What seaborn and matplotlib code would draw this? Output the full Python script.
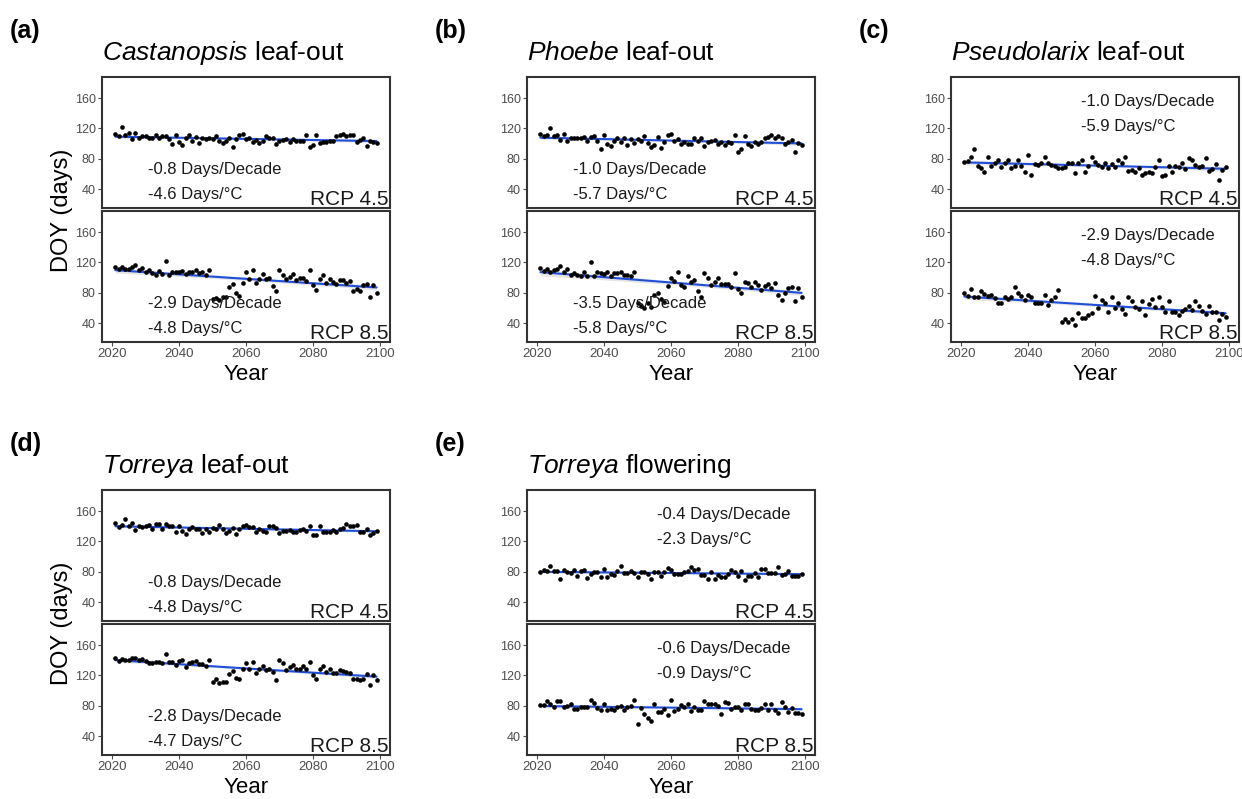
import numpy as np
import pandas as pd
import matplotlib
matplotlib.use("Agg")
import matplotlib.pyplot as plt
import seaborn as sns

sns.set_style("white")
plt.rcParams['font.family'] = ['Liberation Sans', 'DejaVu Sans']
plt.rcParams['text.color'] = 'black'
plt.rcParams['mathtext.fontset'] = 'custom'
plt.rcParams['mathtext.rm'] = 'Liberation Sans'
plt.rcParams['mathtext.it'] = 'Liberation Sans:italic'

years = list(range(2021, 2100))

# day-of-year values, one row per decade
castanopsis_45 = [113, 110, 122, 111, 114, 106, 114, 107, 110,
                  110, 108, 108, 111, 107, 110, 110, 106, 100, 112,
                  102, 98, 107, 111, 104, 109, 101, 108, 106, 107,
                  106, 110, 104, 101, 103, 108, 95, 106, 111, 113,
                  106, 107, 102, 105, 101, 103, 110, 108, 108, 100,
                  104, 105, 106, 102, 106, 104, 104, 103, 112, 96,
                  98, 112, 101, 102, 102, 103, 103, 110, 111, 113,
                  110, 112, 112, 102, 105, 107, 97, 103, 102, 101]
castanopsis_85 = [114, 111, 114, 111, 112, 114, 117, 110, 113,
                  108, 110, 106, 104, 109, 105, 122, 103, 107, 107,
                  108, 109, 105, 108, 108, 110, 106, 107, 104, 110,
                  72, 73, 70, 74, 75, 88, 92, 80, 76, 93,
                  107, 98, 110, 93, 98, 105, 98, 100, 89, 82,
                  110, 104, 98, 101, 105, 97, 99, 100, 95, 110,
                  90, 84, 98, 103, 93, 98, 94, 92, 97, 97,
                  93, 95, 83, 85, 83, 90, 91, 74, 90, 80]
phoebe_45 = [113, 110, 111, 121, 110, 111, 105, 113, 103,
             107, 108, 107, 108, 109, 104, 109, 110, 104, 93,
             112, 99, 97, 104, 108, 102, 107, 98, 106, 101,
             106, 104, 110, 101, 96, 98, 109, 94, 102, 111,
             113, 103, 106, 100, 102, 100, 99, 107, 103, 107,
             97, 102, 103, 105, 100, 102, 98, 102, 101, 111,
             89, 93, 110, 100, 97, 102, 100, 102, 108, 109,
             111, 107, 110, 107, 99, 102, 105, 89, 101, 98]
phoebe_85 = [113, 109, 112, 108, 110, 112, 115, 107, 111,
             104, 106, 103, 102, 107, 102, 121, 102, 107, 106,
             105, 107, 102, 106, 106, 108, 104, 104, 102, 107,
             67, 62, 60, 67, 61, 77, 80, 72, 68, 89,
             100, 95, 107, 90, 87, 102, 94, 97, 82, 74,
             106, 99, 90, 94, 99, 91, 91, 92, 88, 106,
             85, 80, 94, 93, 87, 94, 90, 84, 89, 92,
             86, 93, 77, 70, 80, 86, 88, 69, 86, 74]
pseudolarix_45 = [76, 77, 82, 93, 71, 68, 63, 83, 70,
                  74, 79, 69, 75, 79, 68, 71, 79, 70, 62,
                  85, 58, 73, 72, 74, 83, 74, 72, 70, 68,
                  68, 69, 74, 75, 61, 75, 78, 62, 71, 82,
                  76, 72, 69, 74, 68, 73, 69, 78, 74, 82,
                  64, 65, 63, 68, 59, 61, 62, 61, 69, 79,
                  57, 58, 71, 63, 70, 69, 74, 67, 81, 79,
                  72, 69, 70, 81, 64, 66, 73, 52, 65, 69]
pseudolarix_85 = [80, 76, 85, 74, 75, 82, 79, 76, 77,
                  73, 67, 66, 74, 72, 74, 87, 80, 76, 71,
                  77, 74, 67, 66, 66, 77, 64, 70, 75, 84,
                  42, 45, 41, 46, 38, 53, 47, 47, 50, 53,
                  76, 60, 71, 66, 55, 75, 60, 66, 59, 52,
                  74, 69, 61, 59, 69, 51, 65, 72, 61, 74,
                  61, 55, 69, 54, 54, 51, 56, 59, 62, 57,
                  69, 62, 56, 52, 63, 55, 55, 44, 52, 48]
torreya_leaf_45 = [144, 139, 142, 150, 141, 144, 135, 141, 139,
                   141, 142, 136, 143, 143, 137, 143, 141, 140, 133,
                   141, 134, 130, 136, 139, 136, 137, 131, 136, 132,
                   138, 137, 142, 136, 131, 134, 138, 130, 137, 141,
                   142, 139, 139, 133, 136, 134, 133, 140, 140, 138,
                   131, 134, 134, 135, 132, 132, 135, 137, 134, 140,
                   128, 129, 141, 133, 132, 133, 135, 133, 137, 138,
                   143, 140, 140, 142, 133, 133, 137, 128, 131, 134]
torreya_leaf_85 = [143, 139, 142, 141, 141, 143, 143, 140, 142,
                   139, 137, 136, 138, 138, 136, 148, 138, 138, 134,
                   139, 140, 131, 137, 138, 139, 135, 135, 132, 141,
                   111, 115, 110, 112, 112, 122, 126, 117, 115, 129,
                   136, 129, 138, 123, 128, 133, 127, 128, 125, 114,
                   140, 136, 127, 131, 134, 128, 129, 132, 128, 138,
                   120, 116, 129, 132, 124, 128, 123, 123, 127, 126,
                   125, 123, 116, 115, 114, 116, 122, 108, 121, 114]
torreya_flower_45 = [80, 82, 81, 88, 81, 81, 70, 83, 80,
                     79, 83, 75, 81, 83, 72, 77, 80, 80, 73,
                     84, 73, 77, 76, 81, 88, 79, 78, 81, 78,
                     73, 80, 80, 77, 71, 80, 80, 75, 80, 85,
                     82, 77, 77, 77, 80, 81, 86, 83, 84, 76,
                     76, 70, 80, 70, 76, 73, 73, 77, 82, 80,
                     74, 81, 69, 75, 75, 78, 73, 84, 84, 79,
                     78, 78, 86, 76, 77, 81, 75, 74, 74, 77]
torreya_flower_85 = [81, 81, 86, 82, 79, 86, 86, 79, 80,
                     83, 76, 76, 79, 79, 79, 88, 84, 77, 75,
                     82, 75, 76, 75, 78, 80, 74, 79, 80, 87,
                     56, 77, 69, 64, 60, 82, 72, 72, 76, 68,
                     88, 73, 76, 81, 78, 82, 73, 79, 74, 74,
                     86, 82, 83, 82, 80, 69, 85, 84, 76, 78,
                     79, 75, 83, 82, 76, 74, 74, 77, 82, 75,
                     83, 75, 71, 85, 79, 72, 77, 70, 71, 69]

panel_letters = ["(a)", "(b)", "(c)", "(d)", "(e)"]
genera = ["Castanopsis", "Phoebe", "Pseudolarix", "Torreya", "Torreya"]
events = ["leaf-out", "leaf-out", "leaf-out", "leaf-out", "flowering"]
series_45 = [castanopsis_45, phoebe_45, pseudolarix_45, torreya_leaf_45, torreya_flower_45]
series_85 = [castanopsis_85, phoebe_85, pseudolarix_85, torreya_leaf_85, torreya_flower_85]
rate_45 = [("-0.8 Days/Decade", "-4.6 Days/°C"), ("-1.0 Days/Decade", "-5.7 Days/°C"),
           ("-1.0 Days/Decade", "-5.9 Days/°C"), ("-0.8 Days/Decade", "-4.8 Days/°C"),
           ("-0.4 Days/Decade", "-2.3 Days/°C")]
rate_85 = [("-2.9 Days/Decade", "-4.8 Days/°C"), ("-3.5 Days/Decade", "-5.8 Days/°C"),
           ("-2.9 Days/Decade", "-4.8 Days/°C"), ("-2.8 Days/Decade", "-4.7 Days/°C"),
           ("-0.6 Days/Decade", "-0.9 Days/°C")]
# whether the rate text sits in the upper part of the panel
text_upper = [False, False, True, False, True]
scenarios = ["RCP 4.5", "RCP 8.5"]

fig = plt.figure(figsize=(12.42, 7.99), dpi=100)

lefts = [102, 527, 951, 102, 527]
row_top = [77, 77, 77, 490, 490]
width_px = 288
height_px = 131
gap_px = 3
W, H = 1242, 799

line_blue = "#1f4fd9"
frame = "#333333"
tick_grey = "#4d4d4d"


def draw(ax, values, rates, upper, scen, show_x):
    df = pd.DataFrame({"year": years, "doy": values})
    sns.regplot(data=df, x="year", y="doy", ax=ax, scatter=False, ci=95,
                color="0.3", line_kws={"alpha": 0})
    sns.regplot(data=df, x="year", y="doy", ax=ax, scatter=False, ci=None,
                color=line_blue, line_kws={"lw": 1.5})
    sns.scatterplot(data=df, x="year", y="doy", ax=ax, color="black",
                    s=11, linewidth=0, zorder=3)
    ax.set_xlim(2017, 2103)
    ax.set_ylim(15, 188)
    ax.set_yticks([40, 80, 120, 160])
    ax.set_xticks([2020, 2040, 2060, 2080, 2100])
    ax.set_xlabel("")
    ax.set_ylabel("")
    ax.tick_params(axis="y", length=3, width=0.8, color=tick_grey,
                   labelcolor=tick_grey, labelsize=9, pad=1.5, left=True)
    if show_x:
        ax.tick_params(axis="x", length=3, width=0.8, color=tick_grey,
                       labelcolor=tick_grey, labelsize=9.5, pad=1.5, bottom=True)
    else:
        ax.tick_params(axis="x", bottom=False, labelbottom=False)
    for sp in ax.spines.values():
        sp.set_color(frame)
        sp.set_linewidth(1.5)
    if upper:
        tx, y1, y2 = 0.45, 0.815, 0.62
    else:
        tx, y1, y2 = 0.16, 0.295, 0.10
    ax.text(tx, y1, rates[0], transform=ax.transAxes, fontsize=12,
            va="center", ha="left", color="#1a1a1a")
    ax.text(tx, y2, rates[1], transform=ax.transAxes, fontsize=12,
            va="center", ha="left", color="#1a1a1a")
    ax.text(0.995, 0.025, scen, transform=ax.transAxes, fontsize=15,
            va="baseline", ha="right", color="#1a1a1a")


for i in range(5):
    l = lefts[i] / W
    w = width_px / W
    h = height_px / H
    top_y = row_top[i]
    ax_top = fig.add_axes([l, 1 - (top_y + height_px) / H, w, h])
    ax_bot = fig.add_axes([l, 1 - (top_y + 2 * height_px + gap_px) / H, w, h])
    draw(ax_top, series_45[i], rate_45[i], text_upper[i], scenarios[0], False)
    draw(ax_bot, series_85[i], rate_85[i], text_upper[i], scenarios[1], True)

    # title with italic genus
    fig.text(l, 1 - (top_y - 24) / H, r"$\it{" + genera[i] + "}$ " + events[i],
             fontsize=19, ha="left", va="center")
    fig.text((lefts[i] - 92) / W, 1 - (top_y - 46) / H, panel_letters[i],
             fontsize=18, fontweight="bold", ha="left", va="center")
    # x label baseline, kept inside the figure
    base = min(top_y + 2 * height_px + gap_px + 38, 794)
    fig.text(l + w / 2, 1 - base / H, "Year",
             fontsize=16, ha="center", va="baseline")
    if i in (0, 3):
        fig.text(62 / W, 1 - (top_y + height_px + 2) / H, "DOY (days)",
                 fontsize=17, rotation=90, ha="center", va="center")

plt.savefig("out.png", dpi=100)
